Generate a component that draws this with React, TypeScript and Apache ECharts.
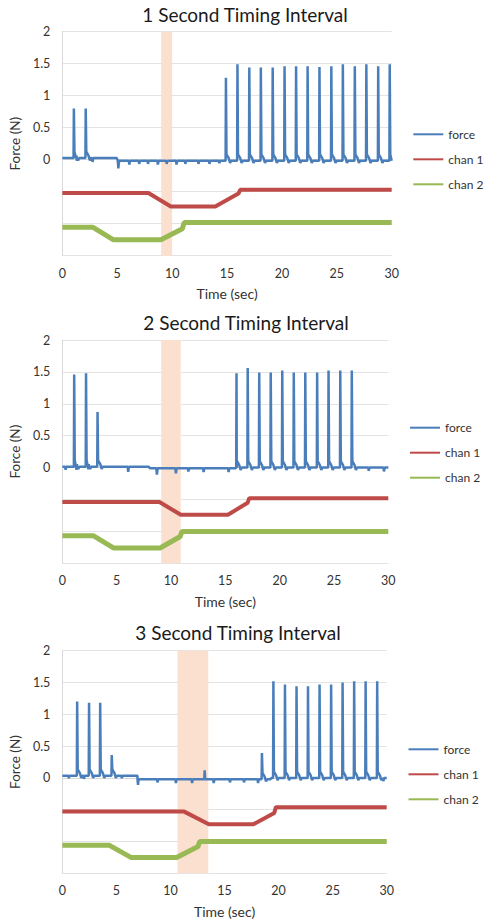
import React, { useEffect, useRef } from "react";
import * as echarts from "echarts";

// ---------- data ----------
const titles = ["1 Second Timing Interval", "2 Second Timing Interval", "3 Second Timing Interval"];
const legendNames = ["force", "chan 1", "chan 2"];
const yTicks = [0, 0.5, 1, 1.5, 2];

// shaded interval (sec)
const shade1 = [9, 10];
const shade2 = [9.1, 10.9];
const shade3 = [10.65, 13.5];

// force baseline levels: [startTime, level]
const base1T = [0, 5.0];
const base1V = [0.025, -0.015];
const base2T = [0, 8, 16];
const base2V = [0.015, -0.01, 0.0];
const base3T = [0, 7, 19.3];
const base3V = [0.035, -0.02, 0.0];

// force spikes
const spike1T = [1.05, 2.13, 14.9, 15.95, 17.03, 18.08, 19.16, 20.24, 21.29, 22.34, 23.42, 24.5, 25.55, 26.64, 27.69, 28.77, 29.82];
const spike1V = [0.8, 0.8, 1.28, 1.49, 1.44, 1.44, 1.44, 1.46, 1.46, 1.46, 1.45, 1.46, 1.49, 1.46, 1.49, 1.46, 1.49];
const spike2T = [1.09, 2.18, 3.24, 16.03, 17.06, 18.12, 19.18, 20.24, 21.3, 22.36, 23.45, 24.5, 25.58, 26.64];
const spike2V = [1.46, 1.48, 0.87, 1.48, 1.56, 1.49, 1.49, 1.52, 1.49, 1.49, 1.49, 1.52, 1.52, 1.52];
const spike3T = [1.37, 2.47, 3.5, 4.57, 13.16, 18.46, 19.52, 20.59, 21.66, 22.72, 23.79, 24.86, 25.92, 26.99, 28.05, 29.12];
const spike3V = [1.2, 1.18, 1.18, 0.36, 0.12, 0.39, 1.52, 1.47, 1.44, 1.44, 1.47, 1.47, 1.5, 1.52, 1.52, 1.52];

// small dips in the force baseline
const dip1T = [1.3, 2.75, 5.1, 6.1, 7.0, 7.8, 8.7, 9.5, 10.4, 11.2, 12.4, 13.4, 14.3];
const dip1V = [-0.04, -0.06, -0.12, -0.06, -0.05, -0.05, -0.06, -0.05, -0.06, -0.05, -0.05, -0.05, -0.04];
const dip2T = [0.3, 1.3, 2.4, 6.06, 8.7, 10.45, 11.6, 13.0, 15.3, 28.2, 29.6];
const dip2V = [-0.05, -0.05, -0.04, -0.08, -0.1, -0.08, -0.05, -0.06, -0.06, -0.05, -0.06];
const dip3T = [0.6, 2.0, 5.5, 7.0, 8.8, 10.5, 12.0, 14.0, 15.5, 16.8, 18.1, 29.7];
const dip3V = [-0.04, -0.05, -0.04, -0.09, -0.05, -0.06, -0.06, -0.06, -0.05, -0.05, -0.06, -0.05];

// channel traces: key points
const chan1_1T = [0, 7.84, 9.88, 13.93, 16.04, 16.2, 30];
const chan1_1V = [-0.52, -0.52, -0.73, -0.73, -0.53, -0.47, -0.47];
const chan2_1T = [0, 2.76, 4.62, 8.98, 10.93, 11.1, 30];
const chan2_1V = [-1.055, -1.055, -1.25, -1.25, -1.08, -0.98, -0.98];

const chan1_2T = [0, 8.94, 10.9, 15.24, 17.06, 17.2, 30];
const chan1_2V = [-0.54, -0.54, -0.74, -0.74, -0.55, -0.48, -0.48];
const chan2_2T = [0, 2.88, 4.7, 9.0, 10.85, 11.0, 30];
const chan2_2V = [-1.07, -1.07, -1.26, -1.26, -1.08, -1.0, -1.0];

const chan1_3T = [0, 11.27, 13.55, 17.67, 19.6, 19.75, 30];
const chan1_3V = [-0.53, -0.53, -0.73, -0.73, -0.55, -0.46, -0.46];
const chan2_3T = [0, 4.36, 6.34, 10.57, 12.55, 12.7, 30];
const chan2_3V = [-1.06, -1.06, -1.25, -1.25, -1.08, -1.0, -1.0];

// ---------- builders ----------
const zip = (t: number[], v: number[]) => t.map((x, i) => [x, v[i]]);

function levelAt(bt: number[], bv: number[], t: number) {
  let l = bv[0];
  for (let i = 0; i < bt.length; i++) if (t >= bt[i]) l = bv[i];
  return l;
}

function buildForce(bt: number[], bv: number[], st: number[], sv: number[], dt: number[], dv: number[]) {
  const pts: number[][] = [];
  pts.push([0, bv[0]]);
  for (let i = 1; i < bt.length; i++) {
    pts.push([bt[i] - 0.05, bv[i - 1]]);
    pts.push([bt[i] + 0.05, bv[i]]);
  }
  st.forEach((t, i) => {
    const b = levelAt(bt, bv, t);
    const p = sv[i];
    pts.push([t - 0.03, b]);
    pts.push([t, p]);
    if (p > 0.3) {
      pts.push([t + 0.05, b + 0.1]);
      pts.push([t + 0.25, b + 0.04]);
      pts.push([t + 0.38, b - 0.035]);
      pts.push([t + 0.48, b]);
    } else {
      pts.push([t + 0.05, b]);
    }
  });
  dt.forEach((t, i) => {
    const b = levelAt(bt, bv, t);
    pts.push([t - 0.05, b]);
    pts.push([t, b + dv[i]]);
    pts.push([t + 0.07, b]);
  });
  pts.push([30, bv[bv.length - 1]]);
  return pts.sort((a, b) => a[0] - b[0]).filter((p) => p[0] >= 0 && p[0] <= 30);
}

const COLORS = ["#4a7ebb", "#be4b48", "#98b954"];
const FONT = "Lato";

const panels = [
  {
    title: titles[0], titleX: 245, titleY: 14,
    grid: { left: 58.7, top: 31.7, width: 333, height: 224 },
    legendLeft: 413.3, legendTop: 127.3,
    force: buildForce(base1T, base1V, spike1T, spike1V, dip1T, dip1V),
    c1: zip(chan1_1T, chan1_1V), c2: zip(chan2_1T, chan2_1V), shade: shade1,
  },
  {
    title: titles[1], titleX: 246, titleY: 322,
    grid: { left: 58.3, top: 340, width: 330, height: 223.3 },
    legendLeft: 410, legendTop: 420.7,
    force: buildForce(base2T, base2V, spike2T, spike2V, dip2T, dip2V),
    c1: zip(chan1_2T, chan1_2V), c2: zip(chan2_2T, chan2_2V), shade: shade2,
  },
  {
    title: titles[2], titleX: 238, titleY: 632,
    grid: { left: 58.3, top: 650.7, width: 328.4, height: 222.6 },
    legendLeft: 408.5, legendTop: 742.3,
    force: buildForce(base3T, base3V, spike3T, spike3V, dip3T, dip3V),
    c1: zip(chan1_3T, chan1_3V), c2: zip(chan2_3T, chan2_3V), shade: shade3,
  },
];

export default function App() {
  const ref = useRef<HTMLDivElement>(null);
  useEffect(() => {
    document.body.style.margin = "0";
    const chart = echarts.init(ref.current!, null, { renderer: "svg" });
    const grids: any[] = [];
    const xAxes: any[] = [];
    const yAxes: any[] = [];
    const series: any[] = [];
    const legends: any[] = [];
    const graphics: any[] = [];
    panels.forEach((p, i) => {
      grids.push({ ...p.grid, containLabel: false });
      xAxes.push({
        type: "value", gridIndex: i, min: 0, max: 30, interval: 5,
        name: "Time (sec)", nameLocation: "middle", nameGap: 31,
        nameTextStyle: { fontFamily: FONT, fontSize: 14, color: "#333333" },
        axisLine: { show: true, lineStyle: { color: "#d9d9d9" } },
        axisTick: { show: false },
        splitLine: { show: false },
        axisLabel: { fontFamily: FONT, fontSize: 12.5, color: "#333333", margin: 11 },
      });
      yAxes.push({
        type: "value", gridIndex: i, min: -1.5, max: 2, interval: 0.5,
        name: "Force (N)", nameLocation: "middle", nameGap: 39,
        nameTextStyle: { fontFamily: FONT, fontSize: 13.5, color: "#333333" },
        axisLine: { show: true, lineStyle: { color: "#d9d9d9" } },
        axisTick: { show: false },
        splitLine: { show: true, lineStyle: { color: "#e3e3e3" } },
        axisLabel: {
          fontFamily: FONT, fontSize: 12.5, color: "#333333", margin: 12,
          formatter: (v: number) => (yTicks.some((t) => Math.abs(t - v) < 1e-9) ? String(v) : ""),
        },
      });
      series.push({
        type: "line", xAxisIndex: i, yAxisIndex: i, data: [], z: 1,
        markArea: {
          silent: true,
          itemStyle: { color: "#fce0cf" },
          data: [[{ xAxis: p.shade[0] }, { xAxis: p.shade[1] }]],
        },
      });
      series.push({
        name: legendNames[0], type: "line", xAxisIndex: i, yAxisIndex: i, data: p.force,
        showSymbol: false, symbol: "none", lineStyle: { color: COLORS[0], width: 2.5 }, itemStyle: { color: COLORS[0] },
        z: 4,
      });
      series.push({
        name: legendNames[1], type: "line", xAxisIndex: i, yAxisIndex: i, data: p.c1,
        showSymbol: false, symbol: "none", lineStyle: { color: COLORS[1], width: 4 }, itemStyle: { color: COLORS[1] },
        z: 3,
      });
      series.push({
        name: legendNames[2], type: "line", xAxisIndex: i, yAxisIndex: i, data: p.c2,
        showSymbol: false, symbol: "none", lineStyle: { color: COLORS[2], width: 5 }, itemStyle: { color: COLORS[2] },
        z: 3,
      });
      legends.push({
        data: legendNames, orient: "vertical", left: p.legendLeft, top: p.legendTop,
        icon: "rect", itemWidth: 30, itemHeight: 2, itemGap: 11,
        padding: 0,
        textStyle: { fontFamily: FONT, fontSize: 12, color: "#333333", lineHeight: 14 },
      });
      graphics.push({
        type: "text", x: p.titleX, y: p.titleY,
        style: { text: p.title, textAlign: "center", textVerticalAlign: "middle", font: `19px ${FONT}`, fill: "#1a1a1a" },
      });
    });
    chart.setOption({
      animation: false,
      grid: grids,
      xAxis: xAxes,
      yAxis: yAxes,
      series,
      legend: legends,
      graphic: graphics,
    });
    return () => chart.dispose();
  }, []);
  return <div ref={ref} style={{ width: 486, height: 923 }} />;
}
